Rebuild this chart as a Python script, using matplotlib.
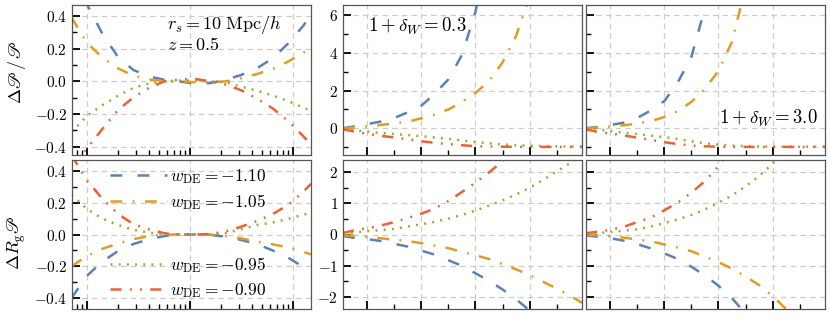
import numpy as np
import matplotlib
matplotlib.use('Agg')
import matplotlib.pyplot as plt
from matplotlib.ticker import FixedLocator, MultipleLocator, NullFormatter, LogLocator

plt.rcParams.update({
    'font.family': 'serif', 'font.serif': ['cmr10'], 'mathtext.fontset': 'cm',
    'axes.formatter.use_mathtext': True, 'lines.scale_dashes': False,
    'axes.unicode_minus': True,
})

# ---------------- data ----------------
# left column: x = log10(k)
logk = [-2.15, -2.0, -1.85, -1.7, -1.55, -1.4, -1.25, -1.1, -0.95, -0.8, -0.65,
        -0.5, -0.35, -0.2, -0.05, 0.1, 0.175]
tl_blue   = [0.65, 0.47, 0.29, 0.15, 0.07, 0.03, 0.01, 0.0, -0.015, -0.01, 0.01,
             0.04, 0.08, 0.14, 0.23, 0.34, 0.41]
tl_orange = [0.39, 0.235, 0.145, 0.08, 0.035, 0.012, 0.002, 0.0, -0.005, -0.005, 0.0,
             0.02, 0.045, 0.075, 0.12, 0.175, 0.21]
tl_green  = [-0.31, -0.21, -0.145, -0.088, -0.04, -0.013, 0.0, 0.005, 0.005, 0.0, -0.005,
             -0.033, -0.056, -0.085, -0.12, -0.16, -0.18]
tl_red    = [-0.52, -0.41, -0.29, -0.175, -0.098, -0.04, 0.0, 0.012, 0.015, 0.0, -0.02,
             -0.055, -0.105, -0.164, -0.24, -0.335, -0.39]

bl_blue   = [-0.40, -0.26, -0.17, -0.105, -0.06, -0.03, -0.01, 0.0, 0.0, -0.002, -0.015,
             -0.035, -0.06, -0.10, -0.145, -0.205, -0.235]
bl_orange = [-0.20, -0.135, -0.09, -0.057, -0.03, -0.01, 0.0, 0.0, 0.0, -0.002, -0.01,
             -0.025, -0.045, -0.062, -0.08, -0.11, -0.125]
bl_green  = [0.25, 0.16, 0.10, 0.06, 0.03, 0.012, 0.0, 0.0, 0.0, 0.0, 0.01,
             0.033, 0.06, 0.075, 0.098, 0.125, 0.135]
bl_red    = [0.50, 0.34, 0.225, 0.13, 0.065, 0.033, 0.008, 0.0, 0.0, 0.003, 0.02,
             0.05, 0.085, 0.128, 0.185, 0.27, 0.32]

# middle / right columns: linear x
xs = [0.55, 0.8, 1.0, 1.25, 1.5, 1.75, 2.0, 2.25, 2.5, 2.75, 3.0, 3.25, 3.5, 3.75,
      4.0, 4.25, 4.5, 4.75, 4.97]

tm_blue   = [0.0, 0.12, 0.22, 0.36, 0.55, 0.85, 1.2, 1.85, 2.6, 3.9, 6.2, 9.5]
tm_orange = [0.0, 0.05, 0.10, 0.18, 0.26, 0.35, 0.53, 0.73, 1.0, 1.4, 1.88, 2.5, 3.5,
             4.9, 7.0]
tm_green  = [-0.03, -0.12, -0.18, -0.25, -0.31, -0.36, -0.42, -0.49, -0.56, -0.65, -0.73,
             -0.80, -0.86, -0.90, -0.93, -0.95, -0.96, -0.97, -0.97]
tm_red    = [-0.05, -0.20, -0.30, -0.40, -0.49, -0.58, -0.69, -0.77, -0.84, -0.90, -0.95,
             -0.97, -0.98, -0.99, -0.99, -0.99, -0.99, -0.99, -0.99]

tr_blue   = [0.0, 0.08, 0.17, 0.30, 0.55, 0.95, 1.45, 2.45, 3.8, 6.4, 10.0]
tr_orange = [0.0, 0.05, 0.09, 0.16, 0.25, 0.38, 0.60, 0.92, 1.4, 2.1, 3.05, 4.6, 7.5]
tr_green  = [-0.02, -0.07, -0.14, -0.24, -0.31, -0.39, -0.47, -0.57, -0.69, -0.80, -0.87,
             -0.92, -0.95, -0.97, -0.98, -0.98, -0.98, -0.98, -0.98]
tr_red    = [-0.05, -0.22, -0.27, -0.38, -0.50, -0.62, -0.74, -0.84, -0.92, -0.96, -0.98,
             -0.99, -0.99, -0.99, -0.99, -0.99, -0.99, -0.99, -0.99]

bm_blue   = [-0.05, -0.12, -0.15, -0.21, -0.30, -0.39, -0.52, -0.65, -0.83, -1.01, -1.25,
             -1.49, -1.77, -2.08, -2.45]
bm_orange = [-0.02, -0.05, -0.075, -0.12, -0.17, -0.21, -0.28, -0.36, -0.44, -0.56, -0.67,
             -0.79, -0.95, -1.12, -1.31, -1.52, -1.74, -1.97, -2.2]
bm_green  = [0.0, 0.07, 0.11, 0.14, 0.18, 0.26, 0.33, 0.41, 0.51, 0.63, 0.77, 0.93, 1.10,
             1.29, 1.50, 1.76, 2.03, 2.30, 2.55]
bm_red    = [0.05, 0.15, 0.20, 0.29, 0.40, 0.53, 0.67, 0.84, 1.08, 1.37, 1.67, 2.0, 2.36,
             2.8]

br_blue   = [-0.03, -0.08, -0.12, -0.20, -0.31, -0.45, -0.61, -0.79, -1.04, -1.32, -1.65,
             -2.05, -2.55]
br_orange = [-0.01, -0.03, -0.05, -0.10, -0.16, -0.22, -0.32, -0.42, -0.54, -0.71, -0.89,
             -1.10, -1.35, -1.63, -1.98, -2.4, -2.85]
br_green  = [0.0, 0.05, 0.08, 0.12, 0.17, 0.26, 0.37, 0.49, 0.63, 0.81, 1.02, 1.26, 1.55,
             1.88, 2.28, 2.75]
br_red    = [0.04, 0.10, 0.15, 0.25, 0.40, 0.55, 0.78, 1.03, 1.35, 1.72, 2.2, 2.8]

labels = [r'$w_{\rm DE} = -1.10$', r'$w_{\rm DE} = -1.05$',
          r'$w_{\rm DE} = -0.95$', r'$w_{\rm DE} = -0.90$']

# ---------------- style ----------------
colors = ['#5E81B5', '#E19C24', '#8FB032', '#EB6235']
styles = [(0, (8.5, 11)), (0, (8.5, 7.5, 1.3, 7.5)), (0, (1.4, 4.5)),
          (0, (8, 6, 1.3, 6, 1.3, 6))]
LW = 1.8

W, H = 830, 323
fig = plt.figure(figsize=(W / 100, H / 100), dpi=100)

def px_axes(x0, y0, x1, y1):
    return fig.add_axes([x0 / W, 1 - y1 / H, (x1 - x0) / W, (y1 - y0) / H])

cols = [(72, 311), (343, 582), (586, 825)]
rows = [(5, 155), (160, 309)]
axes = [[px_axes(c[0], r[0], c[1], r[1]) for c in cols] for r in rows]

def style_ax(ax):
    for s in ax.spines.values():
        s.set_color('#555555')
        s.set_linewidth(0.9)
    ax.tick_params(which='both', direction='in', top=False, right=False,
                   color='k', labelsize=11, labelbottom=False)
    ax.tick_params(which='major', length=6, width=1.3)
    ax.tick_params(which='minor', length=3.5, width=1.0)
    ax.grid(True, which='major', ls=(0, (4, 3)), color='#cccccc', lw=0.9)
    ax.set_axisbelow(True)

def draw(ax, x, series):
    lines = []
    for yv, c, st in zip(series, colors, styles):
        ln, = ax.plot(x[:len(yv)], yv, color=c, ls=st, lw=LW, dash_capstyle='butt')
        lines.append(ln)
    return lines

k = 10 ** np.array(logk)
lt = draw(axes[0][0], k, [tl_blue, tl_orange, tl_green, tl_red])
lb = draw(axes[1][0], k, [bl_blue, bl_orange, bl_green, bl_red])
draw(axes[0][1], xs, [tm_blue, tm_orange, tm_green, tm_red])
draw(axes[0][2], xs, [tr_blue, tr_orange, tr_green, tr_red])
draw(axes[1][1], xs, [bm_blue, bm_orange, bm_green, bm_red])
draw(axes[1][2], xs, [br_blue, br_orange, br_green, br_red])

for r in range(2):
    ax = axes[r][0]
    ax.set_xscale('log')
    ax.set_xlim(10 ** -2.146, 10 ** 0.175)
    ax.xaxis.set_major_locator(FixedLocator([0.01, 0.1, 1.0]))
    ax.xaxis.set_minor_locator(LogLocator(base=10, subs=np.arange(2, 10), numticks=20))
    ax.xaxis.set_minor_formatter(NullFormatter())
    ax.set_ylim(-0.45, 0.467)
    ax.yaxis.set_major_locator(MultipleLocator(0.2))
    ax.yaxis.set_minor_locator(MultipleLocator(0.1))
    style_ax(ax)
    for c in (1, 2):
        ax = axes[r][c]
        ax.set_xlim(0.55, 4.97)
        ax.xaxis.set_major_locator(MultipleLocator(1))
        ax.xaxis.set_minor_locator(MultipleLocator(0.5))
        if r == 0:
            ax.set_ylim(-1.42, 6.55)
            ax.yaxis.set_major_locator(FixedLocator([0, 2, 4, 6]))
            ax.yaxis.set_minor_locator(FixedLocator([-1, 1, 3, 5]))
        else:
            ax.set_ylim(-2.4, 2.4)
            ax.yaxis.set_major_locator(MultipleLocator(1))
            ax.yaxis.set_minor_locator(MultipleLocator(0.5))
        style_ax(ax)
        if c == 2:
            ax.tick_params(labelleft=False)
axes[1][0].set_ylim(-0.47, 0.47)

fig.text(17 / W, 1 - 72 / H, r'$\Delta\mathscr{P}\,/\,\mathscr{P}$', rotation=90,
         ha='center', va='center', fontsize=13)
fig.text(17 / W, 1 - 243 / H, r'$\Delta R_{\rm g}\mathscr{P}$', rotation=90,
         ha='center', va='center', fontsize=13)

axes[0][0].text(167 / W, 1 - 25 / H, r'$r_s = 10\ \mathrm{Mpc}/h$', transform=fig.transFigure,
                ha='left', va='center', fontsize=13)
axes[0][0].text(167 / W, 1 - 45 / H, r'$z = 0.5$', transform=fig.transFigure,
                ha='left', va='center', fontsize=13)
axes[0][1].text(368 / W, 1 - 26 / H, r'$1 + \delta_W = 0.3$', transform=fig.transFigure,
                ha='left', va='center', fontsize=13.5)
axes[0][2].text(818 / W, 1 - 118 / H, r'$1 + \delta_W = 3.0$', transform=fig.transFigure,
                ha='right', va='center', fontsize=13.5)

axb = axes[1][0]
LFS = 12.5
leg1 = axb.legend(lb[:2], labels[:2], loc='upper left', bbox_to_anchor=(0.13, 1.0),
                  frameon=False, fontsize=LFS, handlelength=3.3, handletextpad=0.15,
                  labelspacing=0.35, borderaxespad=0)
axb.add_artist(leg1)
axb.legend(lb[2:], labels[2:], loc='lower left', bbox_to_anchor=(0.13, 0.015),
           frameon=False, fontsize=LFS, handlelength=3.3, handletextpad=0.15,
           labelspacing=0.35, borderaxespad=0)

fig.savefig('out.png', dpi=100)
